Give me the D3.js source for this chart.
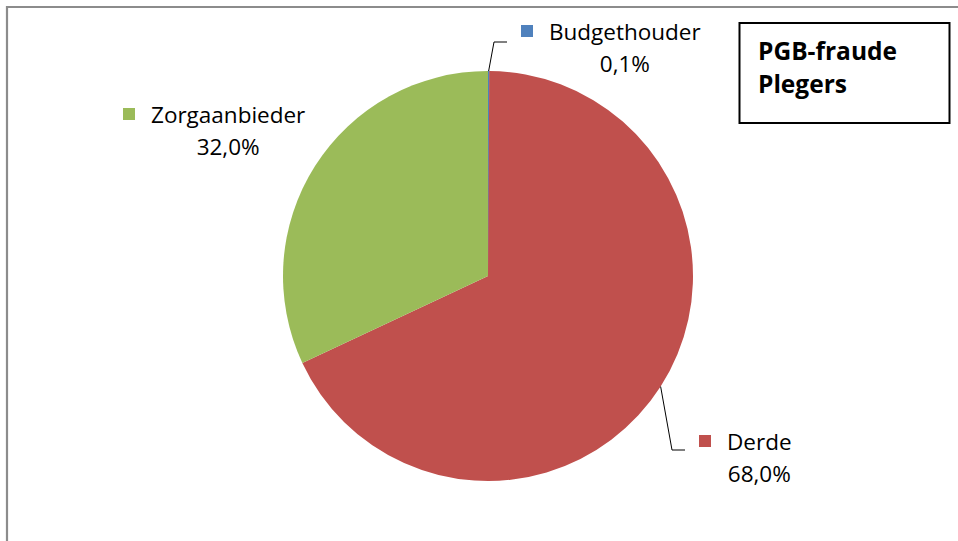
<!DOCTYPE html>
<html>
<head>
<meta charset="utf-8">
<script src="https://cdn.jsdelivr.net/npm/d3@7"></script>
<style>
  body { margin: 0; background: #fff; }
</style>
</head>
<body>
<div id="plot_area"></div>
<script>
// Data
const categories = ['Budgethouder', 'Derde', 'Zorgaanbieder'];
const values = [0.1, 68.0, 32.0];
const valueLabels = ['0,1%', '68,0%', '32,0%'];
const colors = ['#4F81BD', '#C0504D', '#9BBB59'];
const titleLines = ['PGB-fraude', 'Plegers'];

// SVG size
const w = 958;
const h = 541;
const cx = 488;
const cy = 276;
const radius = 205;

const svg = d3.select('#plot_area')
    .append('svg')
    .attr('width', w)
    .attr('height', h);

// Chart frame (only top and left visible)
svg.append('path')
   .attr('d', 'M7,' + h + ' L7,7 L' + w + ',7')
   .attr('fill', 'none')
   .attr('stroke', '#8c8c8c')
   .attr('stroke-width', 2.2);

// Pie layout, clockwise from 12 o'clock in data order
const pie = d3.pie().sort(null).value((d) => d);
const arcs = pie(values);

const arc = d3.arc().innerRadius(0).outerRadius(radius);

const g = svg.append('g')
    .attr('transform', 'translate(' + cx + ',' + cy + ')');

g.selectAll('path.slice')
 .data(arcs)
 .enter()
 .append('path')
 .attr('class', 'slice')
 .attr('d', arc)
 .attr('fill', (d, i) => colors[i])
 .attr('stroke', (d, i) => i === 0 ? colors[i] : 'none')
 .attr('stroke-width', 0.8);

// Label positions: name start, baseline, leader elbow (absolute coords)
const labelPos = [
    {x: 549, y: 40, elbow: [[494, 42], [507, 42]]},
    {x: 727, y: 450, elbow: [[672, 450], [685, 450]]},
    {x: 151, y: 123, elbow: null}
];

const fontFamily = '"Open Sans", "Noto Sans", sans-serif';
const fontSize = 22.5;

arcs.forEach(function (d, i) {
    const p = labelPos[i];
    const mid = (d.startAngle + d.endAngle) / 2;
    const edge = [cx + Math.sin(mid) * radius, cy - Math.cos(mid) * radius];

    // Leader line from slice edge to label
    if (p.elbow) {
        svg.append('path')
           .datum([edge, p.elbow[0], p.elbow[1]])
           .attr('fill', 'none')
           .attr('stroke', '#000')
           .attr('stroke-width', 1)
           .attr('d', d3.line());
    }

    const name = svg.append('text')
       .attr('x', p.x)
       .attr('y', p.y)
       .style('font-family', fontFamily)
       .style('font-size', fontSize + 'px')
       .attr('fill', '#000')
       .text(categories[i]);

    const tw = name.node().getComputedTextLength();

    // Legend key
    svg.append('rect')
       .attr('x', p.x - 28)
       .attr('y', p.y - 15)
       .attr('width', 12)
       .attr('height', 12)
       .attr('fill', colors[i]);

    svg.append('text')
       .attr('x', p.x + tw / 2)
       .attr('y', p.y + 32)
       .attr('text-anchor', 'middle')
       .style('font-family', fontFamily)
       .style('font-size', fontSize + 'px')
       .attr('fill', '#000')
       .text(valueLabels[i]);
});

// Title box
svg.append('rect')
   .attr('x', 739.5)
   .attr('y', 23)
   .attr('width', 210)
   .attr('height', 100)
   .attr('fill', '#fff')
   .attr('stroke', '#000')
   .attr('stroke-width', 2);

svg.selectAll('text.title')
   .data(titleLines)
   .enter()
   .append('text')
   .attr('class', 'title')
   .attr('x', 758)
   .attr('y', (d, i) => 60 + i * 33)
   .style('font-family', fontFamily)
   .style('font-weight', 'bold')
   .style('font-size', '24.5px')
   .attr('fill', '#000')
   .text((d) => d);
</script>
</body>
</html>
